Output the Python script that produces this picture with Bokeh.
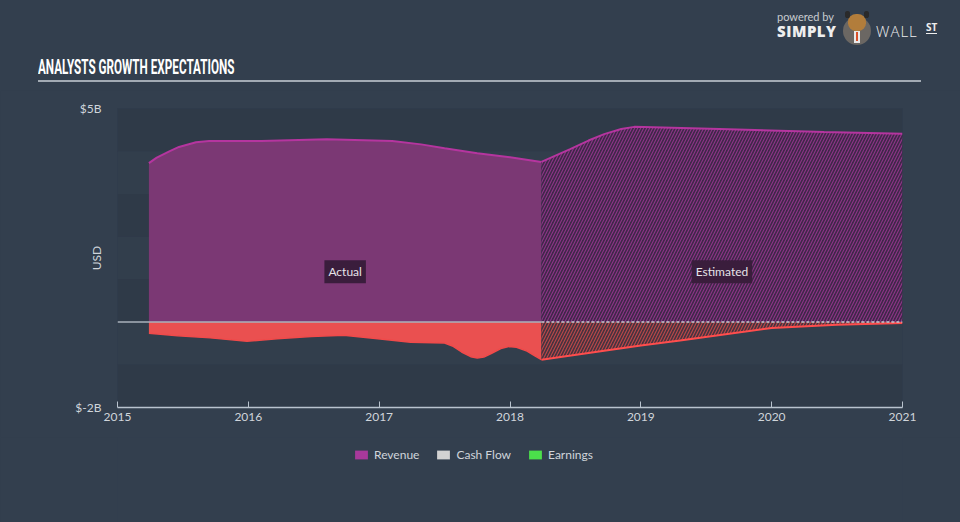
import math
from bokeh.plotting import figure
from bokeh.layouts import column
from bokeh.models import (Label, Legend, LegendItem, BoxAnnotation, FixedTicker, CustomJSTickFormatter, Div)
from bokeh.embed import file_html
from bokeh.resources import INLINE

# ---- data (fractional years, USD billions) ----
rev_actual_x = [2015.24, 2015.30, 2015.40, 2015.47, 2015.60, 2015.70, 2016.10, 2016.60, 2017.10,
                2017.32, 2017.50, 2017.75, 2018.00, 2018.24]
rev_actual_y = [3.72, 3.85, 4.00, 4.10, 4.21, 4.24, 4.24, 4.28, 4.24,
                4.16, 4.07, 3.95, 3.86, 3.75]
rev_est_x = [2018.24, 2018.46, 2018.60, 2018.72, 2018.85, 2018.95, 2019.60, 2020.40, 2021.00]
rev_est_y = [3.75, 4.05, 4.25, 4.40, 4.52, 4.57, 4.52, 4.45, 4.41]

earn_actual_x = [2015.24, 2015.46, 2015.71, 2015.99, 2016.22, 2016.48, 2016.73, 2016.99, 2017.24,
                 2017.50, 2017.56, 2017.63, 2017.70, 2017.75, 2017.80, 2017.86, 2017.93, 2017.99,
                 2018.05, 2018.13, 2018.19, 2018.24]
earn_actual_y = [-0.26, -0.32, -0.37, -0.45, -0.39, -0.34, -0.31, -0.39, -0.47,
                 -0.49, -0.56, -0.70, -0.81, -0.84, -0.82, -0.73, -0.62, -0.57,
                 -0.59, -0.68, -0.79, -0.88]
earn_est_x = [2018.24, 2019.00, 2019.30, 2020.00, 2020.50, 2021.00]
earn_est_y = [-0.88, -0.55, -0.43, -0.14, -0.06, -0.02]

year_ticks = [2015, 2016, 2017, 2018, 2019, 2020, 2021]
y_ticks = [-2, 5]
legend_names = ["Revenue", "Cash Flow", "Earnings"]
legend_colors = ["#a8399b", "#d2d2d2", "#4be04b"]
title_text = "ANALYSTS GROWTH EXPECTATIONS"

BG = "#333f4e"
TXT = "#d0d5db"
FONT = "Lato"

# ---------------- header (title + logo) ----------------
header_html = f"""
<div style="position:relative;width:960px;height:90px;background:{BG};overflow:hidden;">
 <div style="position:absolute;left:38px;top:57px;font-family:Roboto,'DejaVu Sans',sans-serif;font-weight:700;
   font-size:20px;line-height:20px;color:#ffffff;white-space:nowrap;transform:scaleX(0.585);transform-origin:left top;">{title_text}</div>
 <div style="position:absolute;left:38px;top:80px;width:883px;height:2px;background:#a3abb4;"></div>
 <div style="position:absolute;left:777px;top:11px;font-family:Lato,sans-serif;font-size:11px;line-height:11px;color:#c8ccd0;white-space:nowrap;">powered by</div>
 <div style="position:absolute;left:777px;top:25px;font-family:'Open Sans',sans-serif;font-weight:800;font-size:15px;line-height:13px;letter-spacing:0.5px;color:#eeeeee;white-space:nowrap;">SIMPLY</div>
 <div style="position:absolute;left:843px;top:17px;width:28px;height:28px;border-radius:50%;background:#6b6763;"></div>
 <div style="position:absolute;left:848px;top:14px;width:18px;height:17px;border-radius:45%;background:#b27d3b;"></div>
 <div style="position:absolute;left:845px;top:11px;width:5px;height:7px;border-radius:40%;background:#2a2a2a;"></div>
 <div style="position:absolute;left:864px;top:11px;width:5px;height:7px;border-radius:40%;background:#2a2a2a;"></div>
 <div style="position:absolute;left:854px;top:31px;width:6px;height:12px;background:#e8e8e8;"></div>
 <div style="position:absolute;left:856px;top:32px;width:2px;height:9px;background:#d8502a;"></div>
 <div style="position:absolute;left:876px;top:25px;font-family:'Open Sans',sans-serif;font-weight:300;font-size:15px;line-height:13px;letter-spacing:1px;color:#eeeeee;white-space:nowrap;">WALL</div>
 <div style="position:absolute;left:926px;top:22px;font-family:'Open Sans',sans-serif;font-weight:700;font-size:10px;line-height:11px;color:#eeeeee;border-bottom:1.5px solid #eeeeee;white-space:nowrap;">ST</div>
</div>
"""
h = Div(text=header_html, width=960, height=90, margin=(0, 0, 0, 0))

# ---------------- main chart ----------------
p = figure(frame_width=785, frame_height=299, output_backend="svg", toolbar_location=None,
           x_range=(2015, 2021), y_range=(-2, 5),
           background_fill_color="#303b4a", border_fill_color=BG,
           min_border_left=117, min_border_right=58, min_border_top=18, min_border_bottom=30)
p.outline_line_color = None
p.grid.visible = False

# alternating bands
for i in range(7):
    top = 5 - i
    p.add_layout(BoxAnnotation(bottom=top - 1, top=top,
                               fill_color="#2f3a48" if i % 2 == 0 else "#323e4c",
                               fill_alpha=1.0, line_color=None, level="underlay"))

# revenue actual
p.varea(x=rev_actual_x, y1=[0] * len(rev_actual_x), y2=rev_actual_y, fill_color="#7b3874")
p.line(rev_actual_x, rev_actual_y, line_color="#b5359f", line_width=2)
# revenue estimated
p.varea(x=rev_est_x, y1=[0] * len(rev_est_x), y2=rev_est_y, fill_color="#3f2749",
        hatch_pattern="/", hatch_color="#a8389c", hatch_scale=6, hatch_weight=1.1, hatch_alpha=0.75)
p.line(rev_est_x, rev_est_y, line_color="#b5359f", line_width=2)

# earnings (negative) actual
p.varea(x=earn_actual_x, y1=earn_actual_y, y2=[0] * len(earn_actual_x), fill_color="#ea5050")
p.line(earn_actual_x, earn_actual_y, line_color="#f04a4a", line_width=1.5)
# earnings estimated
p.varea(x=earn_est_x, y1=earn_est_y, y2=[0] * len(earn_est_x), fill_color="#46333f",
        hatch_pattern="/", hatch_color="#d24a4a", hatch_scale=6, hatch_weight=1.1, hatch_alpha=0.85)
p.line(earn_est_x, earn_est_y, line_color="#ff4d4d", line_width=2)

# zero line
p.line([year_ticks[0], rev_est_x[0]], [0, 0], line_color="#aab2bb", line_width=1.5)
p.line([rev_est_x[0], year_ticks[-1]], [0, 0], line_color="#c8ccd2", line_width=1.5, line_dash="3 2")

# Actual / Estimated labels
for txt, xx in [("Actual", 2016.74), ("Estimated", 2019.62)]:
    p.add_layout(Label(x=xx, y=1.18, text=txt, text_align="center", text_baseline="middle",
                       text_color="#e6e2e8", text_font=FONT, text_font_size="12px",
                       background_fill_color="#3a1d3c", background_fill_alpha=1.0, padding=4))

# axes
p.xaxis.ticker = FixedTicker(ticks=year_ticks)
p.xaxis.axis_line_color = "#b9c3ce"
p.xaxis.axis_line_width = 1.5
p.xaxis.major_tick_line_color = "#b9c3ce"
p.xaxis.major_tick_in = 6
p.xaxis.major_tick_out = 0
p.xaxis.minor_tick_line_color = None
p.xaxis.major_label_text_color = TXT
p.xaxis.major_label_text_font = FONT
p.xaxis.major_label_text_font_size = "12px"
p.xaxis.major_label_standoff = 5

p.yaxis.ticker = FixedTicker(ticks=y_ticks)
p.yaxis.formatter = CustomJSTickFormatter(code="return tick > 0 ? '$' + tick + 'B' : '$-' + Math.abs(tick) + 'B';")
p.yaxis.axis_line_color = None
p.yaxis.major_tick_line_color = None
p.yaxis.minor_tick_line_color = None
p.yaxis.major_label_text_color = TXT
p.yaxis.major_label_text_font = FONT
p.yaxis.major_label_text_font_size = "12px"
p.yaxis.major_label_standoff = 10
p.yaxis.axis_label = "USD"
p.yaxis.axis_label_text_color = TXT
p.yaxis.axis_label_text_font = FONT
p.yaxis.axis_label_text_font_size = "12px"
p.yaxis.axis_label_text_font_style = "normal"
p.yaxis.axis_label_standoff = -32

# ---------------- footer with legend ----------------
f = figure(width=960, height=85, output_backend="svg", toolbar_location=None,
           x_range=(0, 1), y_range=(0, 1), background_fill_color=BG, border_fill_color=BG,
           min_border_left=117, min_border_right=58, min_border_top=0, min_border_bottom=0)
f.axis.visible = False
f.grid.visible = False
f.outline_line_color = None
# legend swatches: helper areas lying outside the footer's visible range
swatch_x = [-3, -2]
items = []
for name, col in zip(legend_names, legend_colors):
    r = f.varea(x=swatch_x, y1=[0, 0], y2=[1, 1], fill_color=col)
    items.append(LegendItem(label=name, renderers=[r]))
leg = Legend(items=items, orientation="horizontal", location=(236, 60),
             background_fill_alpha=0, border_line_color=None,
             label_text_color=TXT, label_text_font=FONT, label_text_font_size="12px",
             glyph_width=16, glyph_height=11, spacing=16, margin=0, padding=0,
             label_standoff=5, label_height=11)
f.add_layout(leg)

layout = column(h, p, f, spacing=0)
html = file_html(layout, INLINE)
html = html.replace("<head>", "<head><style>body{background:%s;}</style>" % BG, 1)
open("out.html", "w").write(html)
